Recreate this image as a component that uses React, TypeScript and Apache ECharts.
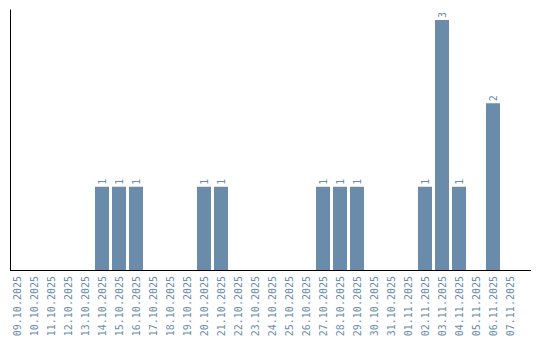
import React, { useEffect, useRef } from "react";
import * as echarts from "echarts";

const categories = [
  "09.10.2025", "10.10.2025", "11.10.2025", "12.10.2025", "13.10.2025",
  "14.10.2025", "15.10.2025", "16.10.2025", "17.10.2025", "18.10.2025",
  "19.10.2025", "20.10.2025", "21.10.2025", "22.10.2025", "23.10.2025",
  "24.10.2025", "25.10.2025", "26.10.2025", "27.10.2025", "28.10.2025",
  "29.10.2025", "30.10.2025", "31.10.2025", "01.11.2025", "02.11.2025",
  "03.11.2025", "04.11.2025", "05.11.2025", "06.11.2025", "07.11.2025",
];
const counts = [
  0, 0, 0, 0, 0,
  1, 1, 1, 0, 0,
  0, 1, 1, 0, 0,
  0, 0, 0, 1, 1,
  1, 0, 0, 0, 1,
  3, 1, 0, 2, 0,
];

const BAR = "#6a8caa";
const TEXT = "#6a8caa";

export default function App() {
  const ref = useRef<HTMLDivElement>(null);
  useEffect(() => {
    if (!ref.current) return;
    const chart = echarts.init(ref.current, undefined, { renderer: "svg" });
    chart.setOption({
      animation: false,
      grid: { left: 8.5, width: 510, top: 10, height: 260, containLabel: false },
      xAxis: {
        type: "category",
        data: categories,
        axisLine: { show: false },
        axisTick: { show: false },
        axisLabel: {
          interval: 0,
          rotate: 90,
          margin: 6,
          color: TEXT,
          fontFamily: "DejaVu Sans Mono",
          fontSize: 10,
        },
      },
      yAxis: {
        type: "value",
        min: 0,
        max: 3.12,
        offset: -2,
        axisLine: { show: true, lineStyle: { color: "#000", width: 1 } },
        axisTick: { show: false },
        axisLabel: { show: false },
        splitLine: { show: false },
      },
      graphic: [
        {
          type: "line",
          shape: { x1: 10, y1: 270.5, x2: 531, y2: 270.5 },
          style: { stroke: "#000", lineWidth: 1 },
          z: 10,
        },
      ],
      series: [
        {
          type: "bar",
          data: counts.map((v) => (v === 0 ? null : v)),
          barWidth: 14,
          itemStyle: { color: BAR },
          label: {
            show: true,
            position: "top",
            rotate: 90,
            align: "left",
            verticalAlign: "middle",
            distance: 2,
            color: TEXT,
            fontFamily: "DejaVu Sans Mono",
            fontSize: 10,
          },
        },
      ],
    });
    return () => chart.dispose();
  }, []);
  return (
    <div
      ref={ref}
      style={{ position: "fixed", left: 0, top: 0, width: 540, height: 340, background: "#fff" }}
    />
  );
}
